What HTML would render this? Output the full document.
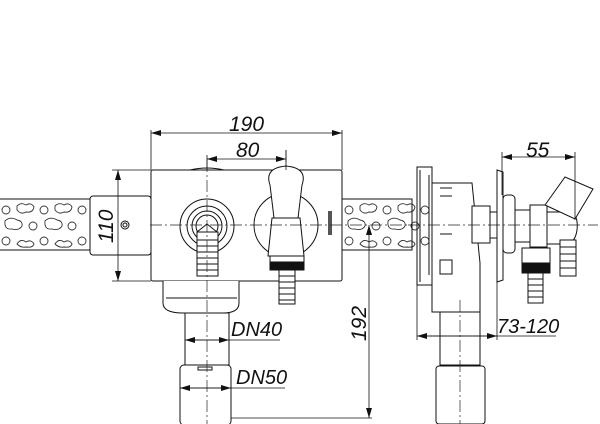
<!DOCTYPE html>
<html><head><meta charset="utf-8"><style>
html,body{margin:0;padding:0;background:#fff;width:600px;height:424px;overflow:hidden}
svg{display:block}
text{font-family:"Liberation Sans",Arial,sans-serif;font-style:italic;fill:#111}
</style></head><body>
<svg width="600" height="424" viewBox="0 0 600 424" xmlns="http://www.w3.org/2000/svg">
<defs>
<marker id="a" viewBox="0 0 10 6" refX="10" refY="3" markerWidth="10" markerHeight="6" orient="auto-start-reverse" markerUnits="userSpaceOnUse"><path d="M0,0 L10,3 L0,6 z" fill="#111"/></marker>
<g id="holes" fill="none" stroke="#333" stroke-width="0.9">
<circle cx="6" cy="210" r="4"/><path d="M17,206 q4,-4 9,-1 q5,-3 8,2 q-1,6 -8,5 q-5,3 -9,-2z"/><circle cx="44" cy="210" r="4"/><path d="M55,206 q4,-4 9,-1 q5,-3 8,2 q-1,6 -8,5 q-5,3 -9,-2z"/><circle cx="82" cy="210" r="4"/>
<path d="M5,221 q5,-5 12,-1 q6,1 5,6 q-3,5 -10,3 q-8,1 -7,-8z"/><circle cx="33" cy="226" r="4"/><path d="M45,221 q5,-5 12,-1 q6,1 5,6 q-3,5 -10,3 q-8,1 -7,-8z"/><circle cx="72" cy="226" r="4"/>
<circle cx="6" cy="241" r="4"/><path d="M17,244 q4,-6 9,-2 q5,-3 8,2 q-1,4 -8,3 q-5,1 -9,-3z"/><circle cx="44" cy="241" r="4"/><path d="M55,244 q4,-6 9,-2 q5,-3 8,2 q-1,4 -8,3 q-5,1 -9,-3z"/><circle cx="82" cy="241" r="4"/>
</g>
</defs>
<g stroke="#111" stroke-width="1" fill="none">
<rect x="-2" y="199" width="92" height="51"/>
<use href="#holes"/>
<rect x="342" y="199" width="70" height="51"/>
<g transform="translate(343,0)"><use href="#holes"/></g>
<rect x="90" y="196" width="61" height="59" rx="3"/>
<circle cx="125" cy="225" r="4"/><circle cx="125" cy="225" r="2"/>
<rect x="151" y="170" width="191" height="111" rx="2" fill="#fff"/>
<rect x="342" y="199" width="70" height="51"/>
<path d="M190,170 q17,-4 34,0"/>
<circle cx="207" cy="226" r="27"/><circle cx="207" cy="226" r="20"/><circle cx="207" cy="226" r="15"/><circle cx="207" cy="226" r="11"/>
<path d="M197,232 l10,-8 l10,8"/>
<rect x="197" y="232" width="21" height="44" fill="#fff"/>
<path d="M197,240h21M197,246h21M197,252h21M197,258h21M197,264h21M197,270h21"/>
<circle cx="286" cy="225" r="32"/>
<path d="M270,185 q-6,-17 16,-19 q22,2 16,19 l-4,33 h-24z" fill="#fff"/>
<path d="M272,218 h28 l4,38 h-36z" fill="#fff"/>
<rect x="270" y="256" width="34" height="6" fill="#fff"/>
<rect x="270" y="262" width="34" height="8" fill="#111"/>
<rect x="279" y="270" width="16" height="34" fill="#fff"/>
<path d="M279,276h16M279,282h16M279,288h16M279,294h16M279,300h16"/>
<rect x="328" y="211" width="4" height="24" fill="#555" stroke="none"/>
<path d="M163,281 v22 q0,10 20,10 h40 q16,0 16,-10 v-22" fill="#fff"/>
<path d="M166,298 h71"/>
<rect x="185" y="313" width="44" height="52" fill="#fff"/>
<rect x="180" y="365" width="51" height="60" rx="4" fill="#fff"/>
<rect x="198" y="367" width="14" height="3"/>
<rect x="417" y="167" width="15" height="118"/>
<path d="M420,170 v112 M429,175 v100"/>
<path d="M432,183 h40 l8,80 v49 h-48z" fill="#fff"/>
<path d="M440,188h12M440,196h12M440,234h12M440,260h12v14h-12z"/>
<rect x="440" y="312" width="40" height="53" fill="#fff"/>
<rect x="436" y="366" width="49" height="58" rx="3" fill="#fff"/>
<rect x="472" y="206" width="18" height="37" fill="#fff"/>
<rect x="490" y="212" width="8" height="26" fill="#fff"/>
<path d="M497,170 l6,2 v108 l-6,2z" fill="#fff"/>
<rect x="503" y="195" width="12" height="58" rx="4" fill="#fff"/>
<rect x="515" y="210" width="15" height="32" fill="#fff"/>
<rect x="530" y="205" width="17" height="42" fill="#fff"/>
<path d="M547,212 h20 q12,0 10,18 q-2,14 -12,14 h-18z" fill="#fff"/>
<path d="M545,205 l20,-28 l28,12 l-18,30z" fill="#fff"/>
<rect x="522" y="248" width="28" height="18" fill="#fff"/>
<rect x="522" y="263" width="28" height="10" fill="#111"/>
<rect x="528" y="273" width="15" height="30" fill="#fff"/>
<path d="M528,279h15M528,285h15M528,291h15M528,297h15"/>
<rect x="560" y="240" width="16" height="36" fill="#fff"/>
<path d="M560,247h16M560,254h16M560,261h16M560,268h16"/>
</g>
<g stroke="#222" stroke-width="0.7" stroke-dasharray="12,3,2,3" fill="none">
<path d="M150,225 H412"/><path d="M207,160 V424"/><path d="M286,150 V170"/>
<path d="M408,225 H598"/><path d="M460,300 V424"/>
</g>
<g stroke="#111" stroke-width="0.8" fill="none">
<path d="M151,130 V170 M342,130 V170"/>
<path d="M151,133 H342" marker-start="url(#a)" marker-end="url(#a)"/>
<path d="M207,155 V170 M286,150 V170"/>
<path d="M207,159 H286" marker-start="url(#a)" marker-end="url(#a)"/>
<path d="M112,170 H151 M112,281 H151"/>
<path d="M118,170 V281" marker-start="url(#a)" marker-end="url(#a)"/>
<path d="M185,340 H280"/>
<path d="M185,340 H229" marker-start="url(#a)" marker-end="url(#a)"/>
<path d="M180,388 H285"/>
<path d="M180,388 H231" marker-start="url(#a)" marker-end="url(#a)"/>
<path d="M369,225 V418" marker-start="url(#a)" marker-end="url(#a)"/>
<path d="M231,418 H372"/>
<path d="M417,285 V340 M497,172 V340"/>
<path d="M417,336 H556"/>
<path d="M417,336 H497" marker-start="url(#a)" marker-end="url(#a)"/>
<path d="M502,152 V195 M575,152 V220"/>
<path d="M502,157 H575" marker-start="url(#a)" marker-end="url(#a)"/>
</g>
<text x="229" y="131" font-size="21">190</text>
<text x="236" y="157" font-size="21">80</text>
<text x="113" y="243" font-size="21" transform="rotate(-90 113 243)">110</text>
<text x="231" y="336" font-size="20">DN40</text>
<text x="236" y="384" font-size="20">DN50</text>
<text x="366" y="341" font-size="21" transform="rotate(-90 366 341)">192</text>
<text x="497" y="333" font-size="20">73-120</text>
<text x="526" y="157" font-size="21">55</text>
</svg>
</body></html>
